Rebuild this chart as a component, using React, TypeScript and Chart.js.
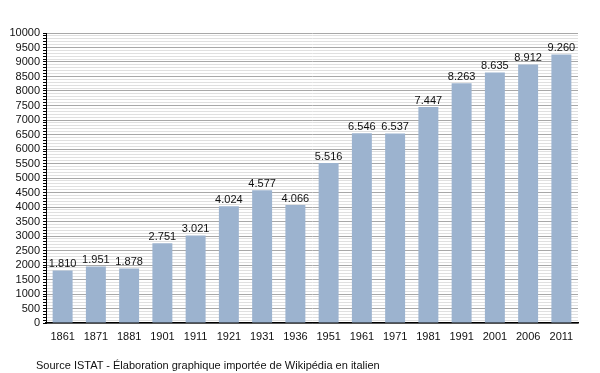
import React, { useEffect, useRef } from "react";
import { Chart, registerables } from "chart.js";

Chart.register(...registerables);

const years = ["1861", "1871", "1881", "1901", "1911", "1921", "1931", "1936", "1951", "1961", "1971", "1981", "1991", "2001", "2006", "2011"];
const population = [1810, 1951, 1878, 2751, 3021, 4024, 4577, 4066, 5516, 6546, 6537, 7447, 8263, 8635, 8912, 9260];
const sourceText = "Source ISTAT - Élaboration graphique importée de Wikipédia en italien";

const FONT = "'Liberation Sans', Arial, sans-serif";

const fmt = (v: number) => {
  const s = String(Math.round(v));
  return s.replace(/\B(?=(\d{3})+(?!\d))/g, ".");
};

const valueLabels = {
  id: "valueLabels",
  afterDatasetsDraw(chart: any) {
    const ctx = chart.ctx;
    const meta = chart.getDatasetMeta(0);
    ctx.save();
    ctx.font = `11px ${FONT}`;
    ctx.fillStyle = "#111";
    ctx.textAlign = "center";
    ctx.textBaseline = "bottom";
    meta.data.forEach((bar: any, i: number) => {
      ctx.fillText(fmt(population[i]), bar.x, bar.y - 1);
    });
    ctx.restore();
  },
};

export default function App() {
  const ref = useRef<HTMLCanvasElement>(null);
  useEffect(() => {
    if (!ref.current) return;
    const chart = new Chart(ref.current, {
      type: "bar",
      data: {
        labels: years,
        datasets: [
          {
            data: population,
            backgroundColor: "#9cb3cf",
            borderWidth: 0,
            categoryPercentage: 1,
            barPercentage: 0.6,
          },
        ],
      },
      options: {
        animation: false,
        responsive: false,
        maintainAspectRatio: false,
        layout: { padding: { top: 33, right: 22, left: 0, bottom: 0 } },
        plugins: { legend: { display: false }, tooltip: { enabled: false } },
        scales: {
          x: {
            grid: { display: false, drawTicks: false },
            border: { color: "#000", width: 1.5 },
            ticks: { color: "#111", font: { family: FONT, size: 11 }, padding: 7, maxRotation: 0 },
            afterFit: (s: any) => {
              s.height = 50;
            },
          },
          y: {
            min: 0,
            max: 10000,
            border: { color: "#000", width: 1 },
            grid: {
              color: (c: any) => (c.tick && c.tick.value % 500 === 0 ? "#a8a8a8" : "#e0e0e0"),
              tickColor: "#000",
              tickLength: 3,
              lineWidth: 1,
            },
            ticks: {
              stepSize: 100,
              autoSkip: false,
              color: "#111",
              font: { family: FONT, size: 11 },
              padding: 3,
              callback: (v: any) => (Number(v) % 500 === 0 ? String(v) : ""),
            },
            afterFit: (s: any) => {
              s.width = 46;
            },
          },
        },
      },
      plugins: [valueLabels],
    });
    return () => chart.destroy();
  }, []);
  return (
    <div style={{ position: "fixed", left: 0, top: 0, width: 600, height: 373, background: "#fff" }}>
      <canvas ref={ref} width={600} height={373} style={{ display: "block" }} />
      <div
        style={{
          position: "absolute",
          left: 36,
          top: 359,
          fontFamily: FONT,
          fontSize: 11,
          color: "#111",
          whiteSpace: "nowrap",
        }}
      >
        {sourceText}
      </div>
    </div>
  );
}
